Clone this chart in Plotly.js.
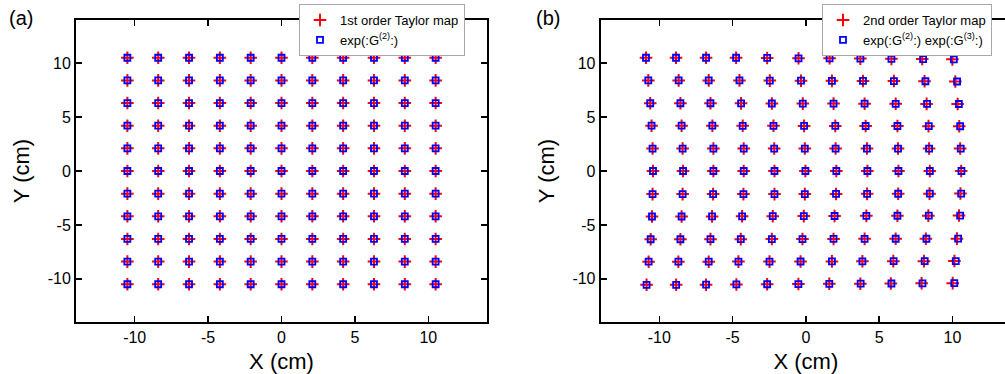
<!DOCTYPE html>
<html><head><meta charset="utf-8">
<script src="https://cdn.plot.ly/plotly-3.0.1.min.js"></script>
<style>html,body{margin:0;padding:0;overflow:hidden;background:#fff}#chart{width:1015px;height:374px}</style>
</head><body><div id="chart"></div>
<script>
// Panel (a): regular grid positions (cm), same for X and Y
const gridA = [-10.5, -8.4, -6.3, -4.2, -2.1, 0, 2.1, 4.2, 6.3, 8.4, 10.5];

// Panel (b): exp(:G2:) exp(:G3:) positions, one array per row (top to bottom)
const bRowsX = [
  [-10.91, -8.86, -6.81, -4.76, -2.64, -0.50, 1.62, 3.72, 5.84, 8.00, 10.10],
  [-10.75, -8.68, -6.63, -4.53, -2.46, -0.33, 1.78, 3.90, 6.01, 8.16, 10.32],
  [-10.62, -8.56, -6.51, -4.42, -2.32, -0.21, 1.89, 4.01, 6.13, 8.27, 10.44],
  [-10.53, -8.48, -6.38, -4.31, -2.21, -0.12, 2.01, 4.08, 6.25, 8.39, 10.53],
  [-10.46, -8.41, -6.31, -4.24, -2.16, -0.07, 2.03, 4.17, 6.29, 8.41, 10.57],
  [-10.43, -8.38, -6.31, -4.24, -2.14, -0.03, 2.08, 4.20, 6.32, 8.46, 10.62],
  [-10.46, -8.41, -6.33, -4.26, -2.14, -0.07, 2.06, 4.18, 6.30, 8.46, 10.60],
  [-10.50, -8.48, -6.40, -4.35, -2.26, -0.14, 1.96, 4.13, 6.25, 8.39, 10.53],
  [-10.59, -8.56, -6.51, -4.44, -2.32, -0.23, 1.89, 4.01, 6.13, 8.23, 10.39],
  [-10.73, -8.70, -6.63, -4.60, -2.48, -0.36, 1.78, 3.86, 5.99, 8.11, 10.23],
  [-10.87, -8.85, -6.81, -4.74, -2.64, -0.51, 1.60, 3.74, 5.84, 7.96, 10.13]
];
const bRowsY = [
  [10.50, 10.50, 10.50, 10.50, 10.48, 10.45, 10.45, 10.42, 10.40, 10.38, 10.35],
  [8.40, 8.40, 8.40, 8.40, 8.38, 8.37, 8.36, 8.35, 8.34, 8.32, 8.30],
  [6.28, 6.28, 6.28, 6.27, 6.26, 6.25, 6.25, 6.24, 6.23, 6.22, 6.21],
  [4.20, 4.20, 4.20, 4.19, 4.19, 4.18, 4.18, 4.17, 4.17, 4.16, 4.15],
  [2.08, 2.08, 2.08, 2.08, 2.08, 2.08, 2.08, 2.08, 2.08, 2.08, 2.08],
  [0, 0, 0, 0, 0, 0, 0, 0, 0, 0, 0],
  [-2.14, -2.14, -2.14, -2.14, -2.14, -2.14, -2.13, -2.12, -2.11, -2.10, -2.09],
  [-4.22, -4.22, -4.21, -4.20, -4.19, -4.18, -4.17, -4.16, -4.15, -4.14, -4.13],
  [-6.33, -6.33, -6.32, -6.32, -6.31, -6.31, -6.30, -6.29, -6.28, -6.28, -6.27],
  [-8.41, -8.41, -8.41, -8.40, -8.40, -8.39, -8.38, -8.37, -8.36, -8.36, -8.35],
  [-10.55, -10.55, -10.54, -10.52, -10.50, -10.48, -10.46, -10.45, -10.43, -10.41, -10.40]
];
// Panel (b): 2nd order Taylor map positions (X), rows as above; Y same as bRowsY
const tRowsX = [
  [-10.91, -8.86, -6.81, -4.76, -2.64, -0.50, 1.62, 3.72, 5.84, 7.94, 10.00],
  [-10.75, -8.68, -6.63, -4.53, -2.46, -0.33, 1.78, 3.90, 6.01, 8.10, 10.20],
  [-10.62, -8.56, -6.51, -4.42, -2.32, -0.21, 1.89, 4.01, 6.13, 8.24, 10.36],
  [-10.53, -8.48, -6.38, -4.31, -2.21, -0.12, 2.01, 4.08, 6.25, 8.37, 10.47],
  [-10.46, -8.41, -6.31, -4.24, -2.16, -0.07, 2.03, 4.17, 6.29, 8.41, 10.53],
  [-10.43, -8.38, -6.31, -4.24, -2.14, -0.03, 2.08, 4.20, 6.32, 8.46, 10.60],
  [-10.46, -8.41, -6.33, -4.26, -2.14, -0.07, 2.06, 4.18, 6.30, 8.44, 10.55],
  [-10.50, -8.48, -6.40, -4.35, -2.26, -0.14, 1.96, 4.13, 6.25, 8.36, 10.45],
  [-10.59, -8.56, -6.51, -4.44, -2.32, -0.23, 1.89, 4.01, 6.13, 8.19, 10.31],
  [-10.73, -8.70, -6.63, -4.60, -2.48, -0.36, 1.78, 3.86, 5.97, 8.06, 10.14],
  [-10.87, -8.85, -6.81, -4.74, -2.64, -0.51, 1.60, 3.72, 5.80, 7.90, 10.02]
];

const tickValues = [-10, -5, 0, 5, 10];
const tickLabels = ['-10', '-5', '0', '5', '10'];
const legendNames = ['1st order Taylor map', 'exp(:G<sup>(2)</sup>:)',
                     '2nd order Taylor map', 'exp(:G<sup>(2)</sup>:) exp(:G<sup>(3)</sup>:)'];

// build point lists
const aX = [], aY = [];
gridA.slice().reverse().forEach(y => gridA.forEach(x => { aX.push(x); aY.push(y); }));
const bX = [], bY = [], tX = [];
bRowsX.forEach((r, i) => r.forEach((x, j) => { bX.push(x); bY.push(bRowsY[i][j]); tX.push(tRowsX[i][j]); }));

const FONT = 'Liberation Sans, Arial, sans-serif';
const cross = {symbol: 'cross-thin-open', size: 9, color: '#ff0000', line: {color: '#ff0000', width: 2}};
const sq = {symbol: 'square-open', size: 6, color: '#0000ff', line: {color: '#0000ff', width: 1.8}};

const traces = [
  {x: aX, y: aY, type: 'scatter', mode: 'markers', name: legendNames[0], marker: cross, xaxis: 'x', yaxis: 'y', legend: 'legend'},
  {x: aX, y: aY, type: 'scatter', mode: 'markers', name: legendNames[1], marker: sq, xaxis: 'x', yaxis: 'y', legend: 'legend'},
  {x: tX, y: bY, type: 'scatter', mode: 'markers', name: legendNames[2], marker: cross, xaxis: 'x2', yaxis: 'y2', legend: 'legend2'},
  {x: bX, y: bY, type: 'scatter', mode: 'markers', name: legendNames[3], marker: sq, xaxis: 'x2', yaxis: 'y2', legend: 'legend2'}
];

function ax(extra) {
  return Object.assign({
    range: [-14, 14], tickmode: 'array', tickvals: tickValues, ticktext: tickLabels,
    ticks: 'inside', ticklen: 6, tickwidth: 1.5, tickcolor: '#000',
    showline: true, linecolor: '#000', linewidth: 2, mirror: 'ticks',
    zeroline: false, showgrid: false, fixedrange: true,
    tickfont: {family: FONT, size: 16, color: '#000'}
  }, extra);
}

const W = 1015, H = 374, ML = 76, MR = 4, MT = 20, MB = 52;
const PW = W - ML - MR, PH = H - MT - MB;
const legendBase = {xanchor: 'left', yanchor: 'top', bgcolor: '#fff', bordercolor: '#a8a8a8', borderwidth: 1,
  font: {family: FONT, size: 13, color: '#000'}, tracegroupgap: 0};

const layout = {
  width: W, height: H,
  margin: {l: ML, r: MR, t: MT, b: MB},
  paper_bgcolor: '#fff', plot_bgcolor: '#fff',
  showlegend: true,
  xaxis: ax({domain: [0, (487 - ML) / PW], anchor: 'y', title: {text: 'X (cm)', font: {family: FONT, size: 22, color: '#000'}, standoff: 8}}),
  yaxis: ax({domain: [0, 1], anchor: 'x', title: {text: 'Y (cm)', font: {family: FONT, size: 22, color: '#000'}, standoff: 12}}),
  xaxis2: ax({domain: [(600.7 - ML) / PW, 1], anchor: 'y2', title: {text: 'X (cm)', font: {family: FONT, size: 22, color: '#000'}, standoff: 8}}),
  yaxis2: ax({domain: [0, 1], anchor: 'x2', title: {text: 'Y (cm)', font: {family: FONT, size: 22, color: '#000'}, standoff: 12}}),
  legend: Object.assign({}, legendBase, {x: (299 - ML) / PW, y: (H - MB - 4) / PH}),
  legend2: Object.assign({}, legendBase, {x: (822 - ML) / PW, y: (H - MB - 4) / PH}),
  annotations: [
    {text: '(a)', xref: 'paper', yref: 'paper', x: (7 - ML) / PW, y: (H - MB - 18) / PH, xanchor: 'left', yanchor: 'middle', showarrow: false, font: {family: FONT, size: 20, color: '#000'}},
    {text: '(b)', xref: 'paper', yref: 'paper', x: (534 - ML) / PW, y: (H - MB - 18) / PH, xanchor: 'left', yanchor: 'middle', showarrow: false, font: {family: FONT, size: 20, color: '#000'}}
  ]
};

Plotly.newPlot('chart', traces, layout, {displayModeBar: false, staticPlot: true});
</script>
</body></html>
